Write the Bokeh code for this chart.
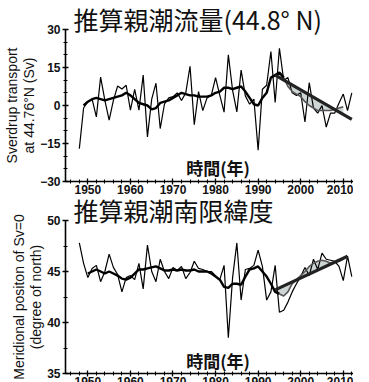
import numpy as np
from bokeh.plotting import figure
from bokeh.layouts import column
from bokeh.models import Range1d, Label, FixedTicker, LinearAxis, Spacer
from bokeh.embed import file_html
from bokeh.resources import INLINE

years = [1948, 1949, 1950, 1951, 1952, 1953, 1954, 1955, 1956, 1957,
         1958, 1959, 1960, 1961, 1962, 1963, 1964, 1965, 1966, 1967,
         1968, 1969, 1970, 1971, 1972, 1973, 1974, 1975, 1976, 1977,
         1978, 1979, 1980, 1981, 1982, 1983, 1984, 1985, 1986, 1987,
         1988, 1989, 1990, 1991, 1992, 1993, 1994, 1995, 1996, 1997,
         1998, 1999, 2000, 2001, 2002, 2003, 2004, 2005, 2006, 2007,
         2008, 2009, 2010, 2011, 2012]

# Sverdrup transport at 44.76N (Sv), annual
transport = [-17.0, -1.0, 1.5, 2.5, -4.5, 11.2, 2.0, -5.8, 2.0, 7.7,
             6.5, 8.0, -1.8, 6.4, -1.8, 12.0, -12.4, 2.5, 8.8, -9.1,
             0.6, 3.0, 3.5, 5.0, 2.0, 5.0, 15.5, -7.6, 5.5, -2.0,
             3.0, 4.0, 11.0, 4.0, -2.6, 20.0, 6.0, -2.5, 14.0, 3.8,
             0.5, 2.5, -17.6, 6.4, 8.0, 21.3, 1.2, 22.6, 10.0, 11.0,
             5.0, 4.0, 5.0, -6.5, 9.0, -1.0, -3.0, 0.0, -8.5, -3.0,
             -3.0, 1.0, 4.5, -2.0, 5.0]

# smoothed transport, 1949-2010
transport_smooth = [0.0, 1.5, 2.5, 3.0, 2.5, 2.0, 2.5, 3.0, 3.5, 4.0,
                    5.0, 4.0, 2.5, 1.0, 0.5, 0.0, -1.5, -1.0, 1.0, 1.5,
                    2.0, 3.0, 4.0, 5.0, 4.5, 4.0, 4.0, 3.5, 3.5, 3.5,
                    4.0, 5.0, 5.5, 7.0, 7.0, 6.5, 7.0, 7.5, 5.5, 3.0,
                    0.5, 0.0, 3.0, 5.0, 11.0, 12.0, 13.0, 11.0, 7.5, 5.5,
                    4.5, 3.5, 1.5, 0.0, -1.0, -2.0, -2.0, -2.0, -2.0, -1.5,
                    -1.0, -0.5]
transport_smooth_years = years[1:63]

trend_years_top = [1994, 2012]
trend_top = [12.0, -5.5]

# meridional position of Sv=0 (degree north)
latitude = [47.8, 45.8, 44.4, 45.3, 45.6, 44.0, 45.0, 46.7, 45.4, 44.7,
            43.0, 44.4, 44.6, 44.2, 45.8, 43.3, 47.6, 45.0, 44.0, 46.2,
            45.0, 44.3, 45.4, 45.1, 45.5, 44.3, 44.9, 46.0, 45.3, 45.2,
            45.0, 45.0, 44.6, 44.2, 45.6, 38.5, 44.4, 47.8, 42.2, 45.2,
            45.3, 45.6, 47.1, 45.5, 42.2, 43.0, 45.6, 41.0, 41.2, 42.0,
            43.0, 43.8, 44.5, 45.4, 44.6, 46.2, 45.2, 46.8, 46.2, 46.1,
            46.0, 45.5, 44.1, 46.5, 44.5]

# smoothed latitude, 1950-2010
latitude_smooth = [44.8, 45.0, 45.2, 45.0, 44.8, 45.0, 44.8, 44.6, 44.3, 44.2,
                   44.4, 44.8, 45.2, 45.2, 45.3, 45.4, 45.5, 45.3, 45.1, 45.1,
                   45.2, 45.1, 45.2, 45.1, 45.1, 45.2, 45.0, 45.0, 45.0, 44.8,
                   44.5, 44.2, 43.5, 43.4, 43.8, 43.8, 43.7, 44.5, 45.2, 45.3,
                   45.5, 45.0, 44.5, 43.8, 43.0, 42.8, 42.6, 43.0, 43.8, 44.2,
                   44.6, 45.0, 45.5, 45.8, 46.0, 46.1, 46.0, 45.8, 45.9, 46.0,
                   46.2]
latitude_smooth_years = years[2:63]

trend_years_bot = [1994, 2011]
trend_bot = [43.2, 46.5]

major_x = [1950, 1960, 1970, 1980, 1990, 2000, 2010]
minor_x = [1946, 1948, 1952, 1954, 1956, 1958, 1962, 1964, 1966, 1968,
           1972, 1974, 1976, 1978, 1982, 1984, 1986, 1988, 1992, 1994,
           1996, 1998, 2002, 2004, 2006, 2008, 2012]

top_ticks = [-30, -15, 0, 15, 30]
top_minor = [-25, -20, -10, -5, 5, 10, 20, 25]
bot_ticks = [35, 40, 45, 50]
bot_minor = [37.5, 42.5, 47.5]

TICK_FONT = "Liberation Sans"
CJK = "Noto Sans CJK JP"
W = 353


def style(p, yt, ym, ylabel, title):
    p.outline_line_color = None
    p.xgrid.visible = False
    p.ygrid.visible = False
    p.background_fill_color = "white"
    p.border_fill_color = "white"
    p.xaxis.ticker = FixedTicker(ticks=major_x, minor_ticks=minor_x)
    p.yaxis.ticker = FixedTicker(ticks=yt, minor_ticks=ym)
    for ax in (p.xaxis[0], p.yaxis[0]):
        ax.axis_line_width = 1.6
        ax.axis_line_color = "black"
        ax.major_tick_in = 3
        ax.major_tick_out = 3
        ax.minor_tick_in = 2
        ax.minor_tick_out = 2
        ax.major_tick_line_width = 1.3
        ax.minor_tick_line_width = 1.1
        ax.major_tick_line_color = "black"
        ax.minor_tick_line_color = "black"
        ax.major_label_text_font = TICK_FONT
        ax.major_label_text_font_size = "12px"
        ax.major_label_text_font_style = "bold"
        ax.major_label_text_color = "#111111"
    p.xaxis.major_label_standoff = 0
    p.yaxis.major_label_standoff = 2
    p.yaxis.axis_label = ylabel
    p.yaxis.axis_label_text_font = TICK_FONT
    p.yaxis.axis_label_text_font_size = "14px"
    p.yaxis.axis_label_text_font_style = "normal"
    p.yaxis.axis_label_text_color = "#111111"
    p.yaxis.axis_label_text_line_height = 1.1
    p.yaxis.axis_label_standoff = 0
    p.title.text = title
    p.title.text_font = CJK
    p.title.text_font_size = "25px"
    p.title.text_font_style = "normal"
    p.title.text_color = "#111111"
    p.title.align = "left"
    p.title.offset = 8
    p.title.standoff = -15


def pad_left(p, d):
    # empty outer axis used only as a spacer left of the axis label
    pad = LinearAxis(ticker=FixedTicker(ticks=[]), axis_line_color=None,
                     major_tick_in=0, major_tick_out=d,
                     minor_tick_in=0, minor_tick_out=0,
                     major_tick_line_color=None, minor_tick_line_color=None,
                     major_label_standoff=0)
    p.add_layout(pad, "left")


x_range = Range1d(1944.75, 2012.4)

# ---------------- top panel ----------------
p1 = figure(width=W, height=191, x_range=x_range, y_range=Range1d(-30, 30),
            output_backend="svg", toolbar_location=None,
            min_border_left=62, min_border_right=0, min_border_top=17,
            min_border_bottom=16)
style(p1, top_ticks, top_minor, "Sverdrup transport\nat 44.76°N (Sv)",
      "推算親潮流量(44.8° N)")
pad_left(p1, 4)

sy = np.array(transport_smooth_years, dtype=float)
sv = np.array(transport_smooth, dtype=float)
m = sy >= trend_years_top[0]
reg_at = np.interp(sy[m], trend_years_top, trend_top)
p1.varea(x=sy[m], y1=sv[m], y2=reg_at, fill_color="#cdd5d5", fill_alpha=1.0)
p1.line(years, transport, line_color="black", line_width=1.2)
p1.line(sy[sy <= 1996], sv[sy <= 1996], line_color="black", line_width=2.4)
p1.line(sy[sy >= 1996], sv[sy >= 1996], line_color="#555555", line_width=1.6)
p1.line(trend_years_top, trend_top, line_color="#222222", line_width=3.2)

p1.add_layout(Label(x=1973.1, y=-24.3, text="時間(年)",
                    text_font=CJK, text_font_size="17px", text_font_style="bold",
                    text_baseline="middle", text_color="#111111"))

# ---------------- bottom panel ----------------
p2 = figure(width=W, height=192, x_range=x_range, y_range=Range1d(35, 50),
            output_backend="svg", toolbar_location=None,
            min_border_left=62, min_border_right=0, min_border_top=18,
            min_border_bottom=16)
style(p2, bot_ticks, bot_minor, "Meridional positon of Sv=0\n(degree of north)",
      "推算親潮南限緯度")
pad_left(p2, 8)

ly = np.array(latitude_smooth_years, dtype=float)
lv = np.array(latitude_smooth, dtype=float)
mb = (ly >= trend_years_bot[0]) & (ly <= trend_years_bot[1])
reg_b = np.interp(ly[mb], trend_years_bot, trend_bot)
p2.varea(x=ly[mb], y1=lv[mb], y2=reg_b, fill_color="#cdd5d5", fill_alpha=1.0)
p2.line(years, latitude, line_color="black", line_width=1.2)
p2.line(ly[ly <= 1995], lv[ly <= 1995], line_color="black", line_width=2.4)
p2.line(ly[ly >= 1995], lv[ly >= 1995], line_color="#555555", line_width=1.6)
p2.line(trend_years_bot, trend_bot, line_color="#222222", line_width=3.2)

p2.add_layout(Label(x=1973.1, y=36.3, text="時間(年)",
                    text_font=CJK, text_font_size="17px", text_font_style="bold",
                    text_baseline="middle", text_color="#111111"))

layout = column(Spacer(width=W, height=6), p1, p2, spacing=0)
open("out.html", "w").write(file_html(layout, INLINE))
